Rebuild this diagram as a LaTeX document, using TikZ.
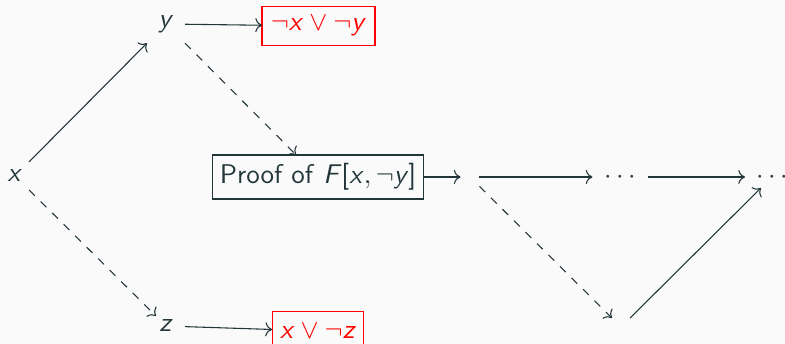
\documentclass[tikz,border=0pt]{standalone}
\usetikzlibrary{arrows.meta}
\definecolor{fg}{HTML}{23373B}
\definecolor{bg}{HTML}{FAFAFA}
\newcommand\sv[1]{\mbox{\textsf{\itshape #1}}}
\newcommand\sbr[1]{\mbox{\textsf{#1}}}
\begin{document}
\begin{tikzpicture}[x=0.37pt,y=-0.37pt,
  every node/.style={inner sep=0pt,outer sep=0pt,anchor=center,text=fg},
  redbox/.style={draw=red,text=red,line width=0.4pt},
  darkbox/.style={draw=fg,line width=0.4pt},
  arr/.style={-{Computer Modern Rightarrow},draw=fg,line width=0.4pt},
  darr/.style={arr,dashed}]
\fill[bg] (0,0) rectangle (785,344);
\useasboundingbox (0,0) rectangle (785,344);
\node[minimum width=11.1pt,minimum height=10.4pt] (x) at (15,176) {$\sv{x}$};
\node[minimum width=14.1pt,minimum height=14.8pt] (y) at (166,24) {$\sv{y}$};
\node[minimum width=14.1pt,minimum height=7.4pt] (z) at (166,326) {$\sv{z}$};
\node[redbox,minimum width=41.8pt,minimum height=14.1pt] (A) at (318.5,26) {$\neg\sv{x}\vee\neg\sv{y}$};
\node[darkbox,minimum width=78.4pt,minimum height=16.3pt] (P) at (318,177) {\textsf{Proof of} $\sv{F}\sbr{[}\sv{x},\neg\sv{y}\sbr{]}$};
\node[redbox,minimum width=34pt,minimum height=14.1pt] (B) at (318,331) {$\sv{x}\vee\neg\sv{z}$};
\node[minimum width=7pt,minimum height=8.1pt] (e1) at (470,177) {};
\node[minimum width=20.4pt,minimum height=8.1pt] (d1) at (620,177) {$\cdots$};
\node[minimum width=20pt,minimum height=8.1pt] (d2) at (772,177) {$\cdots$};
\node[minimum width=6.7pt,minimum height=6.7pt] (e2) at (621,327) {};
\draw[arr] (x) -- (y);
\draw[darr] (x) -- (z);
\draw[arr] (y) -- (A);
\draw[darr] (y) -- (P);
\draw[arr] (z) -- (B);
\draw[arr] (P) -- (e1);
\draw[arr] (e1) -- (d1);
\draw[darr] (e1) -- (e2);
\draw[arr] (d1) -- (d2);
\draw[arr] (e2) -- (d2);
\end{tikzpicture}
\end{document}
